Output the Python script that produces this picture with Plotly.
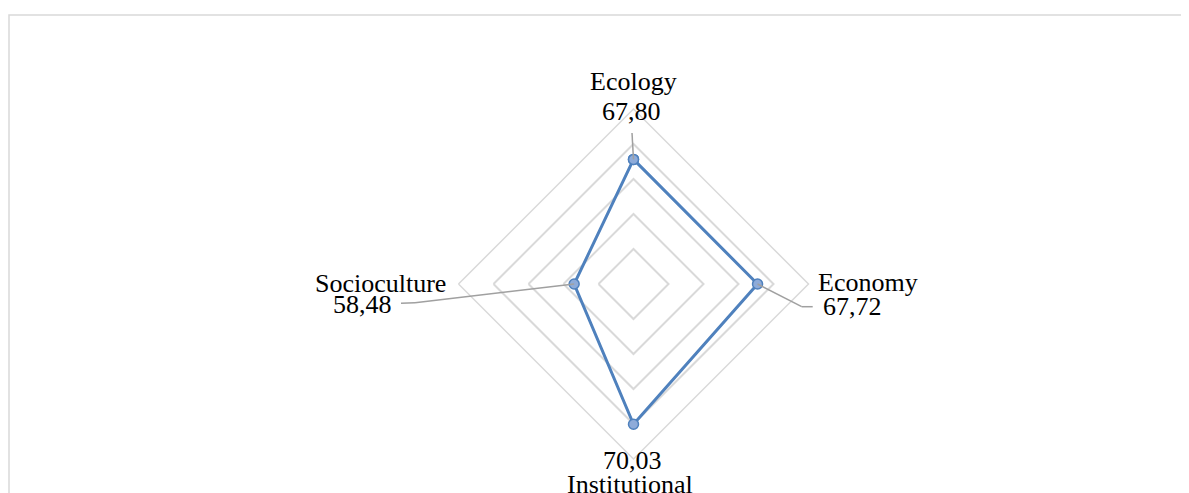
import math
import plotly.graph_objects as go

# ---- data ----
categories = ["Ecology", "Economy", "Institutional", "Socioculture"]
values = [67.80, 67.72, 70.03, 58.48]
value_labels = ["67,80", "67,72", "70,03", "58,48"]
radial_min, radial_max, radial_step = 50, 75, 5

# ---- layout geometry (window pixels) ----
OFF = 8  # default page body margin
W, H = 1189 - OFF, 493 - OFF
CX, CY, R = 633.5, 284.0, 175.0
angles = {"Ecology": 90, "Economy": 0, "Institutional": -90, "Socioculture": 180}

FONT = "Liberation Serif"
FS = 26
GRID = "#d9d9d9"
SERIES = "#4f81bd"
LEADER = "#a0a0a0"


def px(cat, v):
    r = (v - radial_min) / (radial_max - radial_min) * R
    a = math.radians(angles[cat])
    return CX + r * math.cos(a), CY - r * math.sin(a)


def paper(x, y):
    return (x - OFF) / W, 1 - (y - OFF) / H


fig = go.Figure()
fig.add_trace(go.Scatterpolar(
    r=values + values[:1],
    theta=categories + categories[:1],
    mode="lines+markers",
    line=dict(color=SERIES, width=3),
    marker=dict(size=10, color="#8eabd9", line=dict(color=SERIES, width=1.5)),
    hoverinfo="skip",
    cliponaxis=False,
))

dx0, dy1 = paper(CX - R, CY - R)
dx1, dy0 = paper(CX + R, CY + R)
fig.update_layout(
    width=W, height=H,
    margin=dict(l=0, r=0, t=0, b=0),
    paper_bgcolor="white",
    showlegend=False,
    polar=dict(
        domain=dict(x=[dx0, dx1], y=[dy0, dy1]),
        gridshape="linear",
        bgcolor="rgba(0,0,0,0)",
        radialaxis=dict(range=[radial_min, radial_max], dtick=radial_step, tick0=radial_min,
                        showticklabels=False, ticks="", showline=False,
                        gridcolor=GRID, gridwidth=1.5),
        angularaxis=dict(rotation=90, direction="clockwise", showticklabels=False, ticks="",
                         showgrid=False, showline=True, linecolor=GRID, linewidth=1.5,
                         categoryorder="array", categoryarray=categories),
    ),
)

# chart-area border (cropped at right and bottom)
bx0, by1 = paper(9, 15)
fig.add_shape(type="rect", xref="paper", yref="paper",
              x0=bx0, x1=1.02, y0=-0.05, y1=by1,
              line=dict(color=GRID, width=1.5), fillcolor="rgba(0,0,0,0)", layer="below")

# label positions (pixels): category label, value label, leader path
label_spec = {
    "Ecology": dict(cat=(633, 81, "center"), val=(631, 111, "center"), lead=[(632, 133)]),
    "Economy": dict(cat=(816, 282, "left"), val=(821, 306, "left"), lead=[(801.7, 306.7), (812.7, 306.7)]),
    "Institutional": dict(cat=(565, 484, "left"), val=(632, 460, "center"), lead=[]),
    "Socioculture": dict(cat=(380, 283, "center"), val=(362, 304, "center"), lead=[(415, 302.7), (401, 303.3)]),
}

for cat, v, vl in zip(categories, values, value_labels):
    s = label_spec[cat]
    x, y, anc = s["cat"]
    xp, yp = paper(x, y)
    fig.add_annotation(x=xp, y=yp, xref="paper", yref="paper", text=cat, showarrow=False,
                       xanchor=anc, yanchor="middle", font=dict(family=FONT, size=FS, color="black"))
    x, y, anc = s["val"]
    xp, yp = paper(x, y)
    fig.add_annotation(x=xp, y=yp, xref="paper", yref="paper", text=vl, showarrow=False,
                       xanchor=anc, yanchor="middle", font=dict(family=FONT, size=FS, color="black"))
    pts = [px(cat, v)] + s["lead"]
    for (x0, y0), (x1, y1) in zip(pts[:-1], pts[1:]):
        a0, b0 = paper(x0, y0)
        a1, b1 = paper(x1, y1)
        fig.add_shape(type="line", xref="paper", yref="paper", x0=a0, y0=b0, x1=a1, y1=b1,
                      line=dict(color=LEADER, width=1.5), layer="above")

fig.write_html("out.html")
